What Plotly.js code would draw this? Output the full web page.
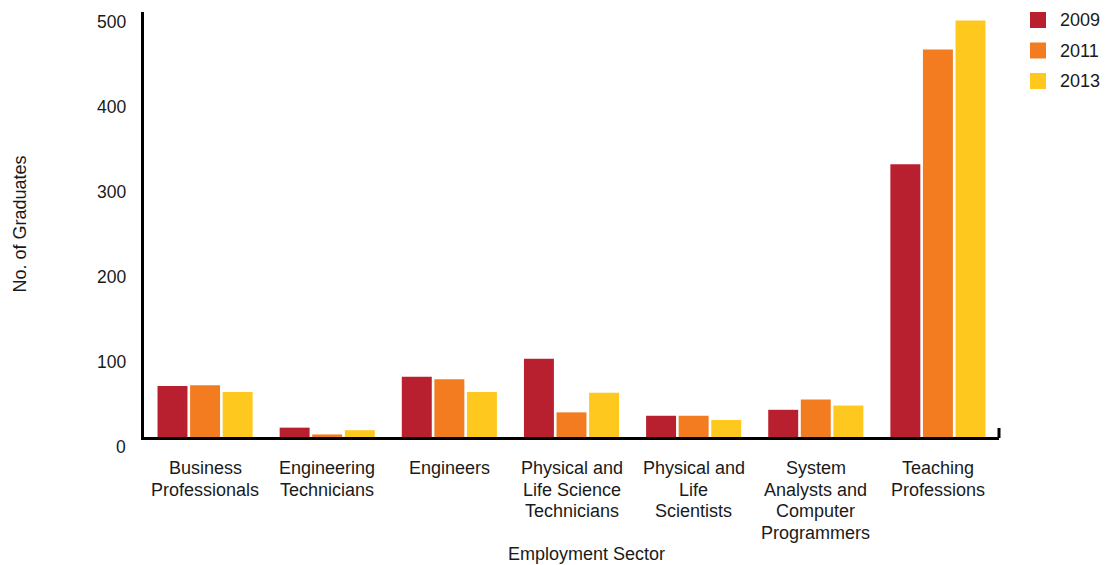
<!DOCTYPE html>
<html>
<head>
<meta charset="utf-8">
<script src="https://cdn.plot.ly/plotly-3.0.1.min.js"></script>
<style>
  html, body { margin: 0; padding: 0; background: #fff; }
  #chart { width: 1108px; height: 565px; }
</style>
</head>
<body>
<div id="chart"></div>
<script>
// Graduates by employment sector, three survey years
const sectors = [
  'Business Professionals',
  'Engineering Technicians',
  'Engineers',
  'Physical and Life Science Technicians',
  'Physical and Life Scientists',
  'System Analysts and Computer Programmers',
  'Teaching Professions'
];
// how each sector name wraps under the axis
const sectorLines = [
  ['Business', 'Professionals'],
  ['Engineering', 'Technicians'],
  ['Engineers'],
  ['Physical and', 'Life Science', 'Technicians'],
  ['Physical and', 'Life', 'Scientists'],
  ['System', 'Analysts and', 'Computer', 'Programmers'],
  ['Teaching', 'Professions']
];
const years = ['2009', '2011', '2013'];
const grads2009 = [60, 11, 71, 92, 25, 32, 321];
const grads2011 = [61, 3, 68, 29, 25, 44, 456];
const grads2013 = [53, 8, 53, 52, 20, 37, 490];
const yTicks = [0, 100, 200, 300, 400, 500];

const seriesValues = [grads2009, grads2011, grads2013];
const colors = ['#B8202F', '#F37C20', '#FEC81F'];
const FONT = '"Liberation Sans", Arial, Helvetica, sans-serif';
const TEXT = '#1a1a1a';

const traces = years.map((yr, i) => ({
  type: 'bar',
  name: yr,
  x: sectors,
  y: seriesValues[i],
  marker: { color: colors[i], line: { width: 0 } },
  hoverinfo: 'x+y+name'
}));

const annotations = [];
// wrapped sector labels, one line per annotation for tight leading
sectors.forEach((s, ci) => {
  sectorLines[ci].forEach((line, li) => {
    annotations.push({
      xref: 'x', yref: 'y', x: s, y: 0,
      text: line, showarrow: false,
      xanchor: 'center', yanchor: 'middle',
      yshift: -(31 + li * 21.6),
      font: { family: FONT, size: 18, color: TEXT }
    });
  });
});
// y tick labels sit a little below their values
yTicks.forEach(v => {
  annotations.push({
    xref: 'paper', yref: 'y', x: 0, y: v,
    xshift: -16, yshift: -9.5,
    xanchor: 'right', yanchor: 'middle',
    text: String(v), showarrow: false,
    font: { family: FONT, size: 17.5, color: TEXT }
  });
});
// axis titles
annotations.push({
  xref: 'paper', yref: 'paper', x: 0.518, y: 0,
  yshift: -117, xanchor: 'center', yanchor: 'middle',
  text: 'Employment Sector', showarrow: false,
  font: { family: FONT, size: 18, color: TEXT }
});
annotations.push({
  xref: 'paper', yref: 'paper', x: 0, y: 0.5,
  xshift: -125, xanchor: 'center', yanchor: 'middle',
  textangle: -90,
  text: 'No. of Graduates', showarrow: false,
  font: { family: FONT, size: 18, color: TEXT }
});

// legend: colour keys and year labels to the right of the plot
const shapes = [];
years.forEach((yr, i) => {
  const top = i * 30.5;
  shapes.push({
    type: 'rect', xref: 'paper', yref: 'paper',
    xsizemode: 'pixel', ysizemode: 'pixel',
    xanchor: 1, yanchor: 1,
    x0: 31, x1: 47, y0: -top - 16, y1: -top,
    fillcolor: colors[i], line: { width: 0 }
  });
  annotations.push({
    xref: 'paper', yref: 'paper', x: 1, y: 1,
    xshift: 59, yshift: -(top + 8),
    xanchor: 'left', yanchor: 'middle',
    text: yr, showarrow: false,
    font: { family: FONT, size: 18, color: TEXT }
  });
});
// closing tick at the right end of the x axis
shapes.push({
  type: 'line', xref: 'paper', yref: 'paper',
  ysizemode: 'pixel', yanchor: 0,
  x0: 1, x1: 1, y0: -1, y1: 9,
  line: { color: '#000', width: 3 }
});

const layout = {
  width: 1108, height: 565,
  margin: { l: 144, r: 109, t: 12, b: 128 },
  paper_bgcolor: '#fff', plot_bgcolor: '#fff',
  showlegend: false,
  barmode: 'group',
  bargap: 0.2,
  bargroupgap: 0.08,
  font: { family: FONT, color: TEXT },
  xaxis: {
    type: 'category',
    showticklabels: false,
    ticks: '',
    showgrid: false, zeroline: false,
    showline: true, linecolor: '#000', linewidth: 3
  },
  yaxis: {
    range: [0, 500],
    showticklabels: false,
    ticks: '',
    showgrid: false, zeroline: false,
    showline: true, linecolor: '#000', linewidth: 3
  },
  annotations: annotations,
  shapes: shapes
};

Plotly.newPlot('chart', traces, layout, { displayModeBar: false, staticPlot: true });
</script>
</body>
</html>
